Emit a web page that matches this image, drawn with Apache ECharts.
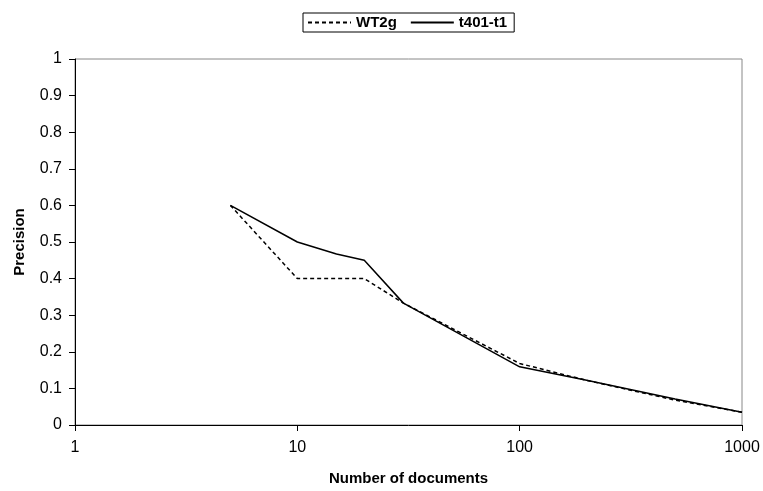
<!DOCTYPE html>
<html>
<head>
<meta charset="utf-8">
<script src="https://cdn.jsdelivr.net/npm/echarts@6/dist/echarts.min.js"></script>
<style>
html,body{margin:0;padding:0;background:#fff;}
#chart{width:763px;height:491px;}
</style>
</head>
<body>
<div id="chart"></div>
<script>
var docs = [5, 10, 15, 20, 30, 100, 200, 500, 1000];
var wt2g = [0.6, 0.4, 0.4, 0.4, 0.333, 0.168, 0.122, 0.068, 0.035];
var t401 = [0.6, 0.5, 0.467, 0.45, 0.333, 0.159, 0.122, 0.071, 0.035];
var seriesNames = ['WT2g', 't401-t1'];
var xTicks = [1, 10, 100, 1000];

function pairs(xs, ys) { return xs.map(function (x, i) { return [x, ys[i]]; }); }

var font = 'Liberation Sans, Arial, sans-serif';
var chart = echarts.init(document.getElementById('chart'), null, {renderer: 'canvas'});
chart.setOption({
  animation: false,
  backgroundColor: '#fff',
  legend: {
    top: 13,
    left: 303,
    data: seriesNames,
    itemWidth: 43,
    itemHeight: 10,
    itemGap: 13,
    padding: [2, 7, 2, 4],
    borderColor: '#000',
    borderWidth: 1,
    itemStyle: {opacity: 0},
    textStyle: {fontFamily: font, fontSize: 15, fontWeight: 'bold', color: '#000'}
  },
  grid: {
    left: 75, right: 21, top: 59, bottom: 62,
    show: true, borderColor: '#888', borderWidth: 1, backgroundColor: 'transparent'
  },
  xAxis: {
    type: 'log', logBase: 10, min: 1, max: 1000,
    name: 'Number of documents', nameLocation: 'middle', nameGap: 46,
    nameTextStyle: {fontFamily: font, fontSize: 15, fontWeight: 'bold', color: '#000'},
    axisLine: {lineStyle: {color: '#000', width: 1}},
    axisTick: {show: true, inside: false, length: 6, lineStyle: {color: '#000'}},
    axisLabel: {fontFamily: font, fontSize: 16, color: '#000', margin: 15,
      formatter: function (v) { return xTicks.indexOf(Math.round(v)) >= 0 ? String(Math.round(v)) : ''; }},
    splitLine: {show: false},
    minorTick: {show: false}
  },
  yAxis: {
    type: 'value', min: 0, max: 1, interval: 0.1,
    name: 'Precision', nameLocation: 'middle', nameGap: 48,
    nameTextStyle: {fontFamily: font, fontSize: 15, fontWeight: 'bold', color: '#000'},
    axisLine: {show: true, lineStyle: {color: '#000', width: 1}},
    axisTick: {show: true, length: 6, lineStyle: {color: '#000'}},
    axisLabel: {fontFamily: font, fontSize: 16, color: '#000', margin: 13,
      formatter: function (v) { return String(Math.round(v * 10) / 10); }},
    splitLine: {show: false}
  },
  series: [
    {
      name: seriesNames[0], type: 'line', data: pairs(docs, wt2g),
      symbol: 'none', color: '#000',
      lineStyle: {color: '#000', width: 1.5, type: [4, 3]}
    },
    {
      name: seriesNames[1], type: 'line', data: pairs(docs, t401),
      symbol: 'none', color: '#000',
      lineStyle: {color: '#000', width: 1.5, type: 'solid'}
    }
  ]
});
</script>
</body>
</html>
